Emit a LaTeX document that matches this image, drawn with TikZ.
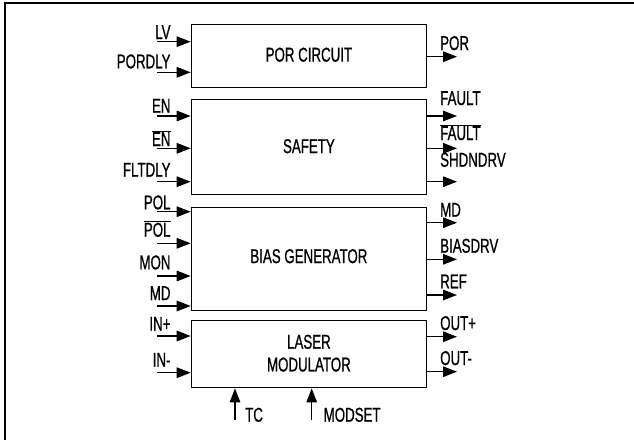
\documentclass[tikz,border=0pt]{standalone}
\usepackage{fontspec}
\setmainfont[FakeStretch=0.665,FakeBold=0.8]{Liberation Sans}
\usetikzlibrary{arrows.meta,positioning}
\newcommand{\ovl}[1]{\(\overline{\hbox{#1}}\)}

\begin{document}
\begin{tikzpicture}[x=1pt,y=-1pt,
    every node/.style={font=\fontsize{20}{22.7}\selectfont, inner sep=0pt},
    blk/.style={draw, line width=1.4pt, anchor=north west},
    sig/.style={line width=1.4pt, -{Triangle[length=14pt,width=10.5pt]}},
    lbl/.style={anchor=base east},
    rlbl/.style={anchor=base west}]
  \useasboundingbox (0,0) rectangle (634,439);
  \begin{scope}
    \clip (0,0) rectangle (634,439);
    \draw[line width=2pt] (5,3) rectangle (650,460);
  \end{scope}

  % Blocks
  \node[blk, minimum width=235pt, minimum height=63pt]  (por)  at (190.7,24)  {};
  \node[blk, minimum width=235pt, minimum height=95pt]  (saf)  at (190.7,99)  {};
  \node[blk, minimum width=235pt, minimum height=103pt] (bias) at (190.7,207) {};
  \node[blk, minimum width=235pt, minimum height=67pt]  (las)  at (190.7,320) {};

  \node at ([yshift=1.5pt]por.center)  {POR CIRCUIT};
  \node at ([yshift=1pt]saf.center)  {SAFETY};
  \node at ([yshift=3pt]bias.center) {BIAS GENERATOR};
  \node[align=center] at ([yshift=1pt]las.center) {LASER\\MODULATOR};

  % Inputs: name / arrow y / label baseline / text / block
  \foreach \n/\y/\b/\t/\blk in {lv/41.7/39/LV/por, pordly/72.3/68.3/PORDLY/por,
      en/116/112.7/EN/saf, nen/148.3/146/\ovl{EN}/saf, fltdly/181.7/176.7/FLTDLY/saf,
      pol/211.7/209.3/POL/bias, npol/243.3/236.7/\ovl{POL}/bias,
      mon/276/269.3/MON/bias, md/306/300/MD/bias,
      inp/336/330.7/IN+/las, inm/372.7/366.7/IN-/las}
  {
    \coordinate (\n) at (157,\y);
    \draw[sig] (\n) -- (\n -| \blk.west);
    \node[lbl] (\n-l) at (170.7,\b) {\t};
  }

  % Outputs
  \foreach \n/\y/\b/\t/\blk in {porout/56.7/50/POR/por,
      fault/116/105/FAULT/saf, nfault/148.3/140/\ovl{FAULT}/saf,
      shdndrv/181.7/166.7/SHDNDRV/saf,
      mdout/222.7/216.7/MD/bias, biasdrv/259.3/252.7/BIASDRV/bias, ref/295/288.3/REF/bias,
      outp/336.7/330/OUT+/las, outm/371.7/365/OUT-/las}
  {
    \coordinate (\n) at (457,\y);
    \draw[sig] (\n -| \blk.east) -- (\n);
    \node[rlbl] (\n-l) at (440,\b) {\t};
  }

  % Bottom inputs
  \coordinate (tc) at (235,420);
  \coordinate (modset) at (311.7,420);
  \draw[sig] (tc) -- (tc |- las.south);
  \draw[sig] (modset) -- (modset |- las.south);
  \node[rlbl] (tc-l) at (245,421.7) {TC};
  \node[rlbl] (modset-l) at (323.5,421.7) {MODSET};
\end{tikzpicture}
\end{document}
